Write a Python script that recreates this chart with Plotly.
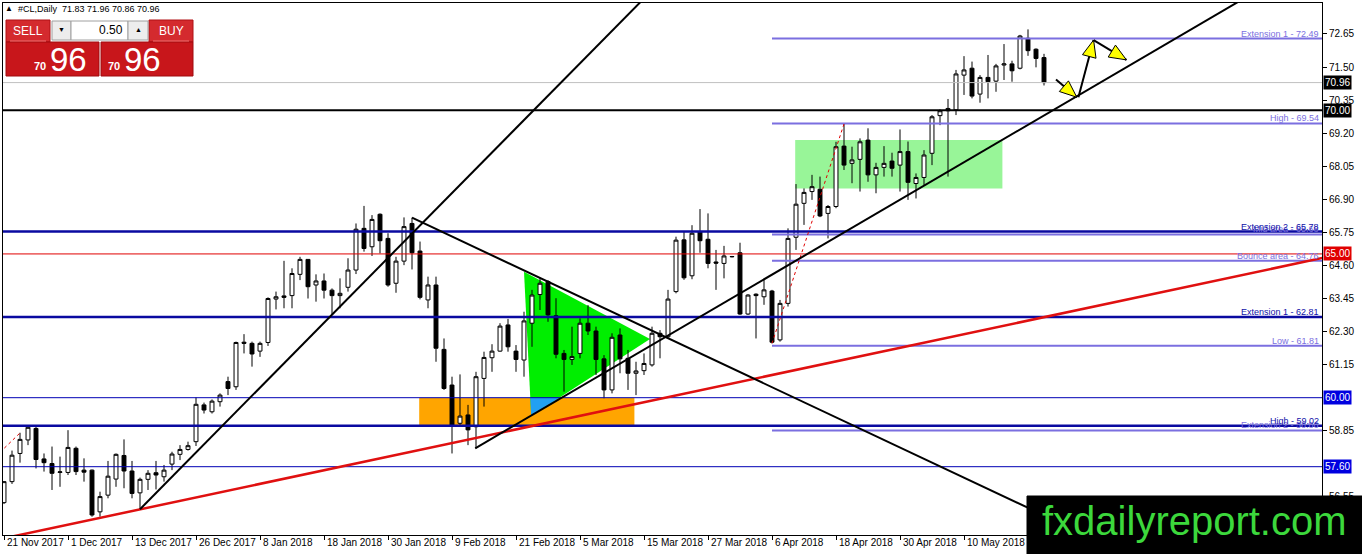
import plotly.graph_objects as go

# { daily candles, index 0 = 21 Nov 2017, last = 24 May 2018
open_ = [56.35, 57.08, 58.06, 58.53, 58.93, 57.87, 57.71, 57.40, 57.40, 58.24,
         57.48, 57.48, 56.03, 56.61, 57.17, 57.99, 57.45, 56.69, 57.16, 57.39,
         57.25, 57.69, 58.03, 58.20, 58.47, 59.75, 59.51, 59.86, 60.56, 60.38,
         61.93, 61.89, 61.62, 61.92, 63.43, 63.54, 63.55, 64.29, 64.81, 63.92,
         64.06, 63.74, 63.55, 63.84, 64.44, 65.89, 65.25, 66.38, 65.54, 63.98,
         64.75, 66.06, 65.10, 63.40, 63.92, 61.68, 60.44, 59.11, 59.40, 58.99,
         60.67, 61.39, 61.62, 62.53, 61.62, 61.31, 62.59, 63.59, 64.04, 62.85,
         61.54, 61.33, 61.54, 62.59, 62.32, 61.35, 60.27, 62.18, 61.37, 60.85,
         60.94, 61.14, 62.24, 62.12, 63.69, 65.49, 64.24, 65.77, 65.51, 64.72,
         64.67, 64.90, 65.04, 62.91, 63.60, 63.51, 63.71, 62.01, 63.28, 65.58,
         66.76, 67.17, 67.25, 66.41, 66.65, 68.75, 68.15, 68.29, 68.96, 67.75,
         68.01, 68.23, 68.09, 68.56, 67.45, 67.66, 68.50, 69.81, 69.98, 70.01,
         71.22, 71.46, 70.56, 71.14, 71.01, 71.57, 71.61, 71.46, 72.50, 72.12,
         71.83]
high = [57.10, 58.16, 58.78, 59.05, 58.99, 58.06, 58.30, 57.95, 58.87, 58.30,
        57.89, 57.50, 56.73, 57.80, 58.06, 58.55, 57.80, 57.22, 57.48, 57.80,
        57.66, 58.12, 58.35, 58.47, 60.01, 59.83, 59.94, 60.15, 60.73, 61.95,
        62.21, 61.95, 61.95, 63.49, 63.69, 64.76, 64.50, 64.90, 64.82, 64.29,
        64.32, 63.80, 64.15, 64.85, 66.06, 66.67, 66.35, 66.41, 65.72, 64.90,
        66.27, 66.26, 65.43, 64.21, 64.21, 62.06, 60.73, 60.81, 59.75, 60.90,
        61.60, 61.86, 62.59, 62.74, 61.83, 62.99, 63.75, 64.17, 64.09, 63.46,
        61.66, 62.47, 62.76, 63.22, 62.47, 61.48, 62.24, 62.41, 61.66, 61.25,
        61.54, 62.47, 62.35, 63.75, 65.60, 65.78, 66.00, 66.56, 66.41, 65.14,
        65.28, 64.93, 65.39, 63.60, 63.63, 64.09, 63.75, 63.40, 65.89, 67.43,
        67.28, 67.75, 67.69, 66.70, 68.90, 69.52, 68.73, 69.02, 69.37, 68.17,
        68.75, 68.52, 69.33, 68.91, 67.80, 68.61, 69.83, 70.03, 70.39, 71.40,
        71.88, 71.69, 71.22, 71.92, 71.61, 72.30, 71.72, 72.62, 72.81, 72.15,
        71.96]
low = [56.30, 57.00, 57.74, 58.35, 57.54, 57.43, 56.79, 56.90, 57.31, 57.31,
       57.08, 55.86, 55.86, 56.50, 56.90, 56.85, 56.50, 56.12, 56.79, 56.81,
       57.08, 57.48, 57.83, 58.16, 58.32, 59.45, 59.45, 59.69, 60.09, 60.27,
       61.54, 61.08, 61.42, 61.80, 63.07, 63.11, 63.11, 64.09, 63.45, 63.34,
       63.45, 62.91, 63.11, 63.69, 64.30, 65.08, 64.93, 65.02, 63.86, 63.65,
       64.61, 64.46, 63.42, 63.11, 61.25, 60.27, 58.06, 59.05, 58.35, 58.24,
       59.69, 60.90, 61.60, 61.60, 60.90, 60.73, 61.77, 63.05, 62.64, 61.37,
       60.21, 61.14, 61.37, 62.18, 60.79, 59.98, 60.15, 60.85, 60.27, 60.09,
       60.79, 61.08, 61.37, 62.06, 63.63, 64.10, 64.12, 65.04, 64.50, 63.75,
       64.15, 64.88, 62.88, 62.88, 62.06, 63.23, 61.89, 61.95, 63.17, 65.14,
       66.01, 66.88, 66.28, 65.54, 66.59, 67.92, 67.46, 67.17, 67.51, 67.11,
       67.69, 67.69, 67.17, 66.88, 66.93, 67.40, 68.09, 69.48, 67.69, 69.83,
       70.53, 70.41, 70.26, 70.41, 70.64, 71.05, 70.99, 71.42, 71.89, 71.49,
       70.86]
close = [57.08, 58.00, 58.55, 58.97, 57.85, 57.74, 57.37, 57.42, 58.27, 57.43,
         57.41, 55.92, 56.56, 57.27, 58.03, 57.45, 56.67, 57.16, 57.37, 57.31,
         57.48, 58.04, 58.20, 58.33, 59.77, 59.57, 59.88, 60.09, 60.32, 61.92,
         61.89, 61.52, 61.89, 63.45, 63.51, 63.49, 64.32, 64.81, 63.86, 64.06,
         63.74, 63.55, 63.63, 64.44, 65.86, 65.19, 66.20, 65.46, 63.92, 64.75,
         65.95, 65.04, 63.49, 63.92, 61.72, 60.32, 59.05, 59.36, 58.88, 60.73,
         61.40, 61.62, 62.49, 61.77, 61.33, 62.67, 63.57, 63.98, 62.88, 61.51,
         61.33, 61.43, 62.59, 62.32, 61.33, 60.27, 62.10, 61.35, 60.85, 60.93,
         61.19, 62.24, 62.12, 63.43, 65.48, 64.17, 65.72, 65.46, 64.67, 64.68,
         64.93, 64.91, 62.91, 63.57, 63.55, 63.75, 61.93, 63.28, 65.54, 66.73,
         67.14, 67.34, 66.32, 66.65, 68.73, 68.09, 68.27, 68.90, 67.75, 68.01,
         68.15, 67.98, 68.56, 67.49, 67.66, 68.44, 69.77, 69.98, 70.06, 71.26,
         71.40, 70.49, 71.14, 70.99, 71.54, 71.61, 71.37, 72.58, 72.07, 71.80,
         70.96]
# }

# { axis labels
date_pos = list(range(0, 121, 8))
date_labels = ["21 Nov 2017", "1 Dec 2017", "13 Dec 2017", "26 Dec 2017",
               "8 Jan 2018", "18 Jan 2018", "30 Jan 2018", "9 Feb 2018",
               "21 Feb 2018", "5 Mar 2018", "15 Mar 2018", "27 Mar 2018",
               "6 Apr 2018", "18 Apr 2018", "30 Apr 2018", "10 May 2018"]
# 60.00 and 57.70 sit under the coloured price tags, so they are left out
price_ticks = [72.65, 71.50, 70.35, 69.20, 68.05, 66.90, 65.75, 64.60,
               63.45, 62.30, 61.15, 58.85, 56.55]
# }

# { horizontal levels
blue_levels = [65.78, 62.81, 59.02]
blue_names = ["Extension 2 - 65.78", "Extension 1 - 62.81", "High - 59.02"]
thin_levels = [60.00, 57.60]
red_level = 65.00
black_level = 70.00
bid = 70.96
fibo_from = 96
fibo_levels = [72.49, 69.54, 65.68, 64.76, 61.81, 58.86]
fibo_names = ["Extension 1 - 72.49", "High - 69.54", "Mid area - 65.68",
              "Bounce area - 64.76", "Low - 61.81", "Extension 2 - 58.86"]
# }

# { drawn objects, (bar index, price)
trend_lines = [[(17, 56.12), (82, 74.45)],
               [(51, 66.26), (140, 54.60)],
               [(58.9, 58.24), (160, 74.70)]]
red_trend = [(0, 55.11), (165, 64.87)]
fibo_rays = [[(96, 61.89), (105, 69.52)], [(-0.5, 58.10), (2.1, 58.80)]]
orange_zone = [(51.9, 59.02), (78.8, 60.00)]
green_zone = [(98.9, 67.28), (124.8, 68.96)]
triangle = [(65.0, 64.38), (80.75, 62.04), (65.9, 59.36)]
overlap = [(65.78, 60.00), (69.45, 60.00), (65.9, 59.36)]
arrows = [[(131.5, 71.07), (134.1, 70.45)],
          [(134.3, 70.45), (136.2, 72.44)],
          [(136.2, 72.44), (140.3, 71.75)]]
# }

W, H = 1362, 554
L, R, T, B = 3, 40, 3, 19
pw, ph = W - L - R, H - T - B
XR = [-0.125, 164.75]
YR = [55.224, 73.728]
sx = pw / (XR[1] - XR[0])
sy = ph / (YR[1] - YR[0])
FONT = "Liberation Sans"


def fx(px):
    return (px - L) / pw


def fy(py):
    return 1 - (py - T) / ph


def poly(points):
    return "M " + " L ".join(f"{k},{p}" for k, p in points) + " Z"


fig = go.Figure()

fig.add_trace(go.Candlestick(x=list(range(len(open_))),
                             open=open_, high=high, low=low, close=close,
                             increasing=dict(line=dict(color='black', width=1),
                                             fillcolor='white'),
                             decreasing=dict(line=dict(color='black', width=1),
                                             fillcolor='black'),
                             whiskerwidth=0,
                             hoverinfo='skip',
                             showlegend=False))

shapes = []

# { background zones
shapes.append(dict(type='rect', xref='x', yref='y', layer='below',
                   x0=orange_zone[0][0], x1=orange_zone[1][0],
                   y0=orange_zone[0][1], y1=orange_zone[1][1],
                   fillcolor='#FFA500', line=dict(width=0)))
shapes.append(dict(type='rect', xref='x', yref='y', layer='below',
                   x0=green_zone[0][0], x1=green_zone[1][0],
                   y0=green_zone[0][1], y1=green_zone[1][1],
                   fillcolor='#98F598', line=dict(width=0)))
shapes.append(dict(type='path', xref='x', yref='y', layer='below',
                   path=poly(triangle), fillcolor='#00EE00', line=dict(width=0)))
shapes.append(dict(type='path', xref='x', yref='y', layer='below',
                   path=poly(overlap), fillcolor='#22A0F2', line=dict(width=0)))
# }

# { horizontal lines
shapes.append(dict(type='line', xref='paper', yref='y', x0=0, x1=1,
                   y0=bid, y1=bid, line=dict(color='#C0C0C0', width=1)))
shapes.append(dict(type='line', xref='paper', yref='y', x0=0, x1=1,
                   y0=black_level, y1=black_level, line=dict(color='black', width=2)))
shapes.append(dict(type='line', xref='paper', yref='y', x0=0, x1=1,
                   y0=red_level, y1=red_level, line=dict(color='#E00000', width=1)))
for lv in thin_levels:
    shapes.append(dict(type='line', xref='paper', yref='y', x0=0, x1=1,
                       y0=lv, y1=lv, line=dict(color='#0000B4', width=1)))
for lv in blue_levels:
    shapes.append(dict(type='line', xref='paper', yref='y', x0=0, x1=1,
                       y0=lv, y1=lv, line=dict(color='#0A0AA0', width=2.5)))
for lv in fibo_levels:
    shapes.append(dict(type='line', xref='x', yref='y', x0=fibo_from, x1=XR[1],
                       y0=lv, y1=lv, line=dict(color='#7B6FE0', width=2)))
for a, b in fibo_rays:
    shapes.append(dict(type='line', xref='x', yref='y', x0=a[0], y0=a[1],
                       x1=b[0], y1=b[1], line=dict(color='#E00000', width=1, dash='dot')))
# }

# { trend lines
shapes.append(dict(type='line', xref='x', yref='y',
                   x0=red_trend[0][0], y0=red_trend[0][1],
                   x1=red_trend[1][0], y1=red_trend[1][1],
                   line=dict(color='#E01010', width=2.5)))
for a, b in trend_lines:
    shapes.append(dict(type='line', xref='x', yref='y', x0=a[0], y0=a[1],
                       x1=b[0], y1=b[1], line=dict(color='black', width=2)))
# }

# { arrows with yellow heads
for a, b in arrows:
    shapes.append(dict(type='line', xref='x', yref='y', x0=a[0], y0=a[1],
                       x1=b[0], y1=b[1], line=dict(color='black', width=2)))
    dx = (b[0] - a[0]) * sx
    dy = (b[1] - a[1]) * sy
    n = (dx * dx + dy * dy) ** 0.5
    ux, uy = dx / n, dy / n
    hl, hw = 17, 7
    bx, by = -ux * hl, -uy * hl
    pts = [(b[0], b[1]),
           (b[0] + (bx - uy * hw) / sx, b[1] + (by + ux * hw) / sy),
           (b[0] + (bx + uy * hw) / sx, b[1] + (by - ux * hw) / sy)]
    shapes.append(dict(type='path', xref='x', yref='y', path=poly(pts),
                       fillcolor='#FFFF00', line=dict(color='black', width=1)))
# }

# { watermark and trade panel (pixel boxes)
def box(x0, y0, x1, y1, fill, line_color=None):
    shapes.append(dict(type='rect', xref='paper', yref='paper',
                       x0=fx(x0), x1=fx(x1), y0=fy(y1), y1=fy(y0),
                       fillcolor=fill,
                       line=dict(color=line_color or fill, width=1)))


box(1027, 496, 1362, 554, 'black')
box(6, 20, 50, 42, '#D42A2E', '#B01015')
box(149, 20, 193, 42, '#D42A2E', '#B01015')
box(6, 42, 99, 76, '#C8161B', '#A00A0E')
box(101, 42, 193, 76, '#C8161B', '#A00A0E')
box(52, 21, 71, 40, '#EDEDED', '#A0A0A0')
box(71, 21, 128, 40, 'white', '#A0A0A0')
box(128, 21, 148, 40, '#EDEDED', '#A0A0A0')
shapes.append(dict(type='line', xref='paper', yref='paper', x0=fx(10), x1=fx(46),
                   y0=fy(41), y1=fy(41), line=dict(color='#F07070', width=1)))
shapes.append(dict(type='line', xref='paper', yref='paper', x0=fx(153), x1=fx(189),
                   y0=fy(41), y1=fy(41), line=dict(color='#F07070', width=1)))
# }

ann = []


def text(px, py, s, size, color, anchor='left', family=FONT):
    ann.append(dict(xref='paper', yref='paper', x=fx(px), y=fy(py), text=s,
                    showarrow=False, xanchor=anchor, yanchor='middle',
                    font=dict(family=family, size=size, color=color)))


text(3, 9, "▲", 8, 'black')
text(16, 9, "#CL,Daily  71.83 71.96 70.86 70.96", 9, 'black')
text(28, 31, "SELL", 12, 'white', 'center')
text(171, 31, "BUY", 12, 'white', 'center')
text(61, 30, "▼", 7, 'black', 'center')
text(138, 30, "▲", 7, 'black', 'center')
text(125, 30, "0.50", 12, 'black', 'right')
text(48, 66, "<b>70</b>", 11, 'white', 'right')
text(48, 59, "96", 33, 'white', 'left')
text(122, 66, "<b>70</b>", 11, 'white', 'right')
text(122, 59, "96", 33, 'white', 'left')
text(1194, 521, "fxdailyreport.com", 40, '#3CD83C', 'center')

# { x axis dates, left aligned on their bar
for pos, lab in zip(date_pos, date_labels):
    ann.append(dict(xref='x', yref='paper', x=pos, y=fy(542), text=lab,
                    showarrow=False, xanchor='left', yanchor='middle', xshift=1,
                    font=dict(family=FONT, size=10, color='black')))
# }

# { level captions
for lv, name in zip(fibo_levels, fibo_names):
    ann.append(dict(xref='paper', yref='y', x=1, y=lv, text=name, showarrow=False,
                    xanchor='right', yanchor='bottom', xshift=-1, yshift=-2,
                    font=dict(family=FONT, size=9, color='#7B6FE0')))
for lv, name in zip(blue_levels, blue_names):
    ann.append(dict(xref='paper', yref='y', x=1, y=lv, text=name, showarrow=False,
                    xanchor='right', yanchor='bottom', xshift=-1, yshift=-2,
                    font=dict(family=FONT, size=9, color='#1010A8')))
# }

# { price tags on the axis
tags = [(bid, 'black'), (black_level, 'black'), (red_level, '#E00000'),
        (thin_levels[0], '#0000E0'), (thin_levels[1], '#0000E0')]
for lv, bg in tags:
    ann.append(dict(xref='paper', yref='y', x=1, y=lv, text=f"{lv:.2f}",
                    showarrow=False, xanchor='left', yanchor='middle', xshift=1,
                    bgcolor=bg, borderpad=1,
                    font=dict(family=FONT, size=10, color='white')))
# }

fig.update_layout(
    width=W, height=H,
    margin=dict(l=L, r=R, t=T, b=B),
    paper_bgcolor='white', plot_bgcolor='white',
    shapes=shapes, annotations=ann,
    showlegend=False,
    xaxis=dict(range=XR, rangeslider=dict(visible=False), showgrid=False,
               zeroline=False, showline=True, mirror=True, linecolor='black',
               linewidth=1, ticks='outside', ticklen=4, tickcolor='black',
               tickvals=date_pos, showticklabels=False, fixedrange=True),
    yaxis=dict(range=YR, side='right', showgrid=False, zeroline=False,
               showline=True, mirror=True, linecolor='black', linewidth=1,
               ticks='outside', ticklen=4, tickcolor='black',
               tickvals=price_ticks, ticktext=[f"{v:.2f}" for v in price_ticks],
               tickfont=dict(family=FONT, size=10, color='black'), fixedrange=True),
)

# page margin off so the 1362x554 figure fills the window
fig.write_html("out.html", config=dict(displayModeBar=False),
               post_script="document.body.style.margin='0';"
                           "document.body.style.overflow='hidden';")
